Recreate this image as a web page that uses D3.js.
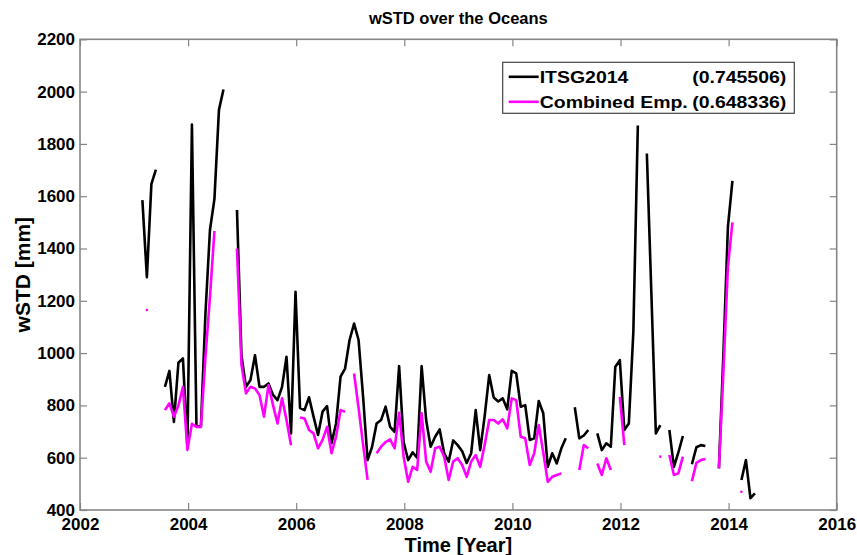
<!DOCTYPE html>
<html>
<head>
<meta charset="utf-8">
<script src="https://cdn.jsdelivr.net/npm/d3@7"></script>
<style>
  html, body { margin: 0; padding: 0; background: #fff; }
  svg { display: block; }
  text { font-family: "Liberation Sans", Arial, Helvetica, sans-serif; font-weight: bold; fill: #000; }
</style>
</head>
<body>
<svg id="chart" width="857" height="555"></svg>
<script>
// Monthly solutions, Feb 2003 – Jun 2014 (null = no solution that month)
const months = [
  "2003-02","2003-03","2003-04","2003-05","2003-06","2003-07","2003-08","2003-09","2003-10","2003-11","2003-12",
  "2004-01","2004-02","2004-03","2004-04","2004-05","2004-06","2004-07","2004-08","2004-09","2004-10","2004-11","2004-12",
  "2005-01","2005-02","2005-03","2005-04","2005-05","2005-06","2005-07","2005-08","2005-09","2005-10","2005-11","2005-12",
  "2006-01","2006-02","2006-03","2006-04","2006-05","2006-06","2006-07","2006-08","2006-09","2006-10","2006-11","2006-12",
  "2007-01","2007-02","2007-03","2007-04","2007-05","2007-06","2007-07","2007-08","2007-09","2007-10","2007-11","2007-12",
  "2008-01","2008-02","2008-03","2008-04","2008-05","2008-06","2008-07","2008-08","2008-09","2008-10","2008-11","2008-12",
  "2009-01","2009-02","2009-03","2009-04","2009-05","2009-06","2009-07","2009-08","2009-09","2009-10","2009-11","2009-12",
  "2010-01","2010-02","2010-03","2010-04","2010-05","2010-06","2010-07","2010-08","2010-09","2010-10","2010-11","2010-12",
  "2011-01","2011-02","2011-03","2011-04","2011-05","2011-06","2011-07","2011-08","2011-09","2011-10","2011-11","2011-12",
  "2012-01","2012-02","2012-03","2012-04","2012-05","2012-06","2012-07","2012-08","2012-09","2012-10","2012-11","2012-12",
  "2013-01","2013-02","2013-03","2013-04","2013-05","2013-06","2013-07","2013-08","2013-09","2013-10","2013-11","2013-12",
  "2014-01","2014-02","2014-03","2014-04","2014-05","2014-06"
];

// wSTD [mm], ITSG2014
const itsg2014 = [
  1585,1290,1646,1702,null,871,932,737,963,980,640,
  1874,725,720,1150,1470,1590,1930,2008,null,null,1547,990,
  871,897,992,871,871,884,840,820,870,986,693,1234,
  790,782,831,757,687,776,797,655,731,910,941,1050,
  1113,1050,833,591,642,731,744,795,718,699,950,660,
  591,620,600,950,744,642,680,708,617,585,666,648,
  625,580,617,782,629,760,916,830,815,827,785,932,
  922,795,801,668,674,817,770,565,617,578,635,674,
  null,793,674,685,706,null,693,629,655,642,948,973,
  706,731,1080,1870,null,1763,1230,693,725,null,706,565,
  620,683,null,575,640,648,645,null,null,559,1000,1483,
  1659,null,515,591,445,464
];

// wSTD [mm], combined empirical
const combinedEmp = [
  null,1165,null,null,null,782,808,757,800,871,630,
  730,718,718,985,1215,1467,null,null,null,null,1400,955,
  846,871,865,840,757,878,801,731,827,744,648,null,
  754,750,706,693,636,668,718,617,680,782,776,null,
  922,790,650,515,null,617,642,660,670,636,772,604,
  508,565,553,770,585,546,636,642,604,515,585,598,
  572,527,585,610,565,650,744,744,731,747,712,827,
  820,680,674,572,617,725,620,508,527,534,540,null,
  null,null,553,648,636,null,578,534,598,553,null,833,
  648,null,null,null,null,null,null,null,604,null,610,534,
  540,604,null,510,580,591,595,null,null,559,930,1330,
  1500,null,470,null,null,null
];

const seriesNames = ["ITSG2014", "Combined Emp."];
const seriesScores = ["(0.745506)", "(0.648336)"];
const seriesColors = ["#000000", "#ff00ff"];

const xTicks = [2002, 2004, 2006, 2008, 2010, 2012, 2014, 2016];
const yTicks = [400, 600, 800, 1000, 1200, 1400, 1600, 1800, 2000, 2200];

const chartTitle = "wSTD over the Oceans";
const xTitle = "Time [Year]";
const yTitle = "wSTD [mm]";

// ---- layout ----
const plot = { left: 80, right: 836.7, top: 39.3, bottom: 510 };
const axisColor = "#858585";
const tickFont = 17;

const svg = d3.select("#chart");

const x = d3.scaleLinear().domain([2002, 2016]).range([plot.left, plot.right]);
const y = d3.scaleLinear().domain([400, 2200]).range([plot.bottom, plot.top]);

// decimal year for a "YYYY-MM" month stamp
function toYear(s) {
  const [yy, mm] = s.split("-").map(Number);
  return yy + (mm - 0.15) / 12;
}

const seriesData = [itsg2014, combinedEmp].map(vals =>
  months.map((m, i) => ({ t: toYear(m), v: vals[i] }))
);

// ---- axes ----
function styleAxis(g) {
  g.select(".domain").remove();
  g.selectAll(".tick line").attr("stroke", axisColor).attr("stroke-width", 1.2);
  g.selectAll(".tick text").style("font-size", tickFont + "px").attr("fill", "#000");
}

svg.append("g")
  .attr("transform", `translate(0,${plot.bottom})`)
  .call(d3.axisBottom(x).tickValues(xTicks).tickFormat(d3.format("d")).tickSizeInner(-7).tickSizeOuter(0).tickPadding(8))
  .call(styleAxis);

svg.append("g")
  .attr("transform", `translate(${plot.left},0)`)
  .call(d3.axisLeft(y).tickValues(yTicks).tickFormat(d3.format("d")).tickSizeInner(-7).tickSizeOuter(0).tickPadding(5))
  .call(styleAxis);

svg.append("g")
  .attr("transform", `translate(0,${plot.top})`)
  .call(d3.axisTop(x).tickValues(xTicks).tickFormat("").tickSizeInner(-7).tickSizeOuter(0))
  .call(styleAxis);

svg.append("g")
  .attr("transform", `translate(${plot.right},0)`)
  .call(d3.axisRight(y).tickValues(yTicks).tickFormat("").tickSizeInner(-7).tickSizeOuter(0))
  .call(styleAxis);

// box around the plot area
svg.append("rect")
  .attr("x", plot.left).attr("y", plot.top)
  .attr("width", plot.right - plot.left).attr("height", plot.bottom - plot.top)
  .attr("fill", "none").attr("stroke", axisColor).attr("stroke-width", 1.6);

// ---- series ----
const line = d3.line()
  .defined(d => d.v != null)
  .x(d => x(d.t))
  .y(d => y(d.v));

seriesData.forEach((data, k) => {
  svg.append("path")
    .datum(data)
    .attr("d", line)
    .attr("fill", "none")
    .attr("stroke", seriesColors[k])
    .attr("stroke-width", 2.6)
    .attr("stroke-linejoin", "round");

  // single months with no neighbours show up as small dots
  const lone = data.filter((d, i) =>
    d.v != null &&
    (i === 0 || data[i - 1].v == null) &&
    (i === data.length - 1 || data[i + 1].v == null));
  svg.selectAll(null)
    .data(lone)
    .enter().append("circle")
    .attr("cx", d => x(d.t))
    .attr("cy", d => y(d.v))
    .attr("r", 1.3)
    .attr("fill", seriesColors[k]);
});

// ---- titles ----
const midX = (plot.left + plot.right) / 2;
svg.append("text")
  .attr("x", midX).attr("y", 24)
  .attr("text-anchor", "middle")
  .style("font-size", "16.5px")
  .text(chartTitle);

svg.append("text")
  .attr("x", midX).attr("y", 552)
  .attr("text-anchor", "middle")
  .style("font-size", "20px")
  .text(xTitle);

svg.append("text")
  .attr("transform", `translate(30,${(plot.top + plot.bottom) / 2}) rotate(-90)`)
  .attr("text-anchor", "middle")
  .style("font-size", "21px")
  .text(yTitle);

// ---- legend ----
const lg = { x: 502.7, y: 62.3, w: 291.6, h: 51 };
const legendFont = 16.5, legendStretch = 1.18;
svg.append("rect")
  .attr("x", lg.x).attr("y", lg.y).attr("width", lg.w).attr("height", lg.h)
  .attr("fill", "#fff").attr("stroke", "#444").attr("stroke-width", 1.2);

seriesNames.forEach((name, k) => {
  const cy = lg.y + 14.5 + k * 25;
  svg.append("line")
    .attr("x1", lg.x + 6).attr("x2", lg.x + 36)
    .attr("y1", cy).attr("y2", cy)
    .attr("stroke", seriesColors[k]).attr("stroke-width", 2.6);
  svg.append("text")
    .attr("transform", `translate(${lg.x + 37},${cy + 6}) scale(${legendStretch},1)`)
    .style("font-size", legendFont + "px")
    .text(name);
  svg.append("text")
    .attr("transform", `translate(${lg.x + lg.w - 8},${cy + 6}) scale(${legendStretch},1)`)
    .attr("text-anchor", "end")
    .style("font-size", legendFont + "px")
    .text(seriesScores[k]);
});
</script>
</body>
</html>
